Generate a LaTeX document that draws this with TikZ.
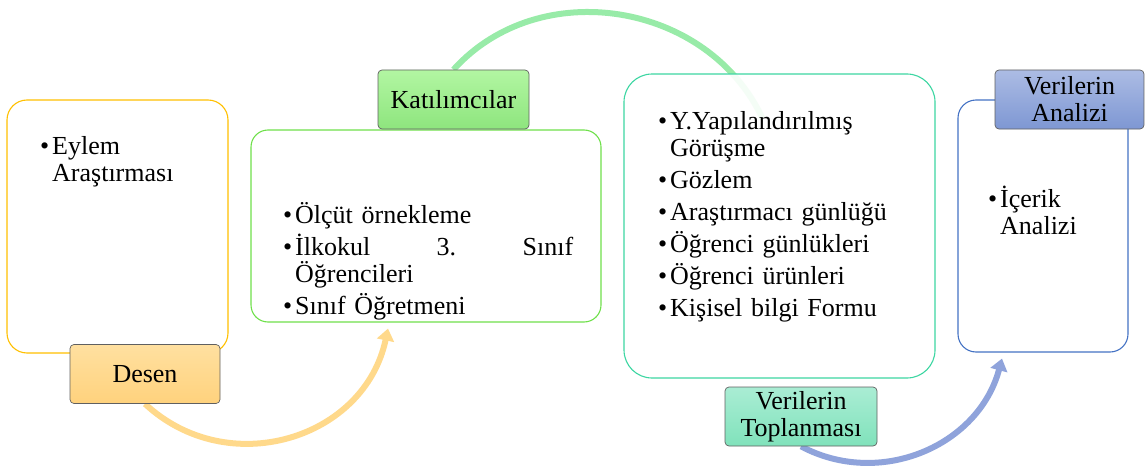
\documentclass[tikz,border=0pt]{standalone}
\usepackage{fontspec}
\setmainfont{Liberation Serif}
\usetikzlibrary{arrows.meta}

\pgfdeclarelayer{bg}
\pgfsetlayers{bg,main}

\definecolor{sari}{HTML}{FFC000}
\definecolor{yesil}{HTML}{6FE04B}
\definecolor{turkuaz}{HTML}{3CD6A2}
\definecolor{mavi}{HTML}{4472C4}
\definecolor{turuncuok}{HTML}{FFD98B}
\definecolor{yesilok}{HTML}{98EBA8}
\definecolor{maviok}{HTML}{8FA3DB}

% madde imli satir
\newcommand{\itm}[1]{\parskip=5pt\hangindent=12pt\hangafter=1\makebox[12pt][l]{\textbullet}#1\par}

\begin{document}
\begin{tikzpicture}[x=1pt, y=1pt,
    kutu/.style={draw, fill=white, rounded corners=20pt, line width=1.1pt, inner sep=0pt},
    sekme/.style={draw=gray!75!black, rounded corners=4pt, line width=0.7pt, align=center,
        inner sep=0pt, minimum height=59pt, font=\fontsize{26}{27}\selectfont},
    liste/.style={anchor=base west, inner sep=0pt, align=left, font=\fontsize{26}{27}\selectfont},
    ok/.style={line width=6pt, -{Triangle[width=17pt,length=12pt]}}]
    \useasboundingbox (0,0) rectangle (1145,467);

    % Kutular
    \node[kutu, draw=sari, minimum width=221pt, minimum height=253pt] (desenkutu) at (117.5,240.5) {};
    \node[kutu, draw=yesil, rounded corners=17pt, minimum width=350pt, minimum height=192pt] (katkutu) at (426,241) {};
    \node[kutu, draw=turkuaz, fill opacity=0.9, rounded corners=28pt, minimum width=311pt, minimum height=304pt] (verikutu) at (779.5,241) {};
    \node[kutu, draw=mavi, rounded corners=18pt, minimum width=170pt, minimum height=252pt] (analizkutu) at (1043,241) {};

    % Kutu metinleri
    \node[liste, text width=175pt] (desenmetin) at (40,313) {\itm{Eylem\newline Araştırması}};
    \node[liste, text width=300pt] (katmetin) at (283,244) {%
        \itm{Ölçüt örnekleme}
        \itm{\hbox to 278pt{İlkokul\hfil 3.\hfil Sınıf}\newline Öğrencileri}
        \itm{Sınıf Öğretmeni}};
    \node[liste, text width=265pt] (verimetin) at (658,338) {%
        \itm{Y.Yapılandırılmış\newline Görüşme}
        \itm{Gözlem}
        \itm{Araştırmacı günlüğü}
        \itm{Öğrenci günlükleri}
        \itm{Öğrenci ürünleri}
        \itm{Kişisel bilgi Formu}};
    \node[liste, text width=140pt] (analizmetin) at (988,260) {\itm{İçerik\newline Analizi}};

    % Sekmeler
    \node[sekme, minimum width=150pt, top color={rgb,255:red,255;green,224;blue,160}, bottom color={rgb,255:red,255;green,210;blue,125}] (desen) at (145,93) {Desen};
    \node[sekme, minimum width=151pt, top color={rgb,255:red,178;green,246;blue,162}, bottom color={rgb,255:red,142;green,229;blue,126}] (katil) at (453.5,367.5) {Katılımcılar};
    \node[sekme, minimum width=152pt, top color={rgb,255:red,170;green,237;blue,212}, bottom color={rgb,255:red,128;green,226;blue,187}] (topl) at (801,50.5) {Verilerin\\Toplanması};
    \node[sekme, minimum width=149pt, top color={rgb,255:red,172;green,188;blue,228}, bottom color={rgb,255:red,126;green,151;blue,211}] (analiz) at (1069.5,367.5) {Verilerin\\Analizi};

    % Oklar (arkada)
    \begin{pgfonlayer}{bg}
        \draw[ok, turuncuok] (desen.south) to[out=-43, in=258, looseness=1.14] ([xshift=-38pt,yshift=-6pt]katkutu.south);
        \draw[line width=6pt, yesilok] (katil.north) to[out=48, in=115, looseness=1.05] ([xshift=-17pt,yshift=-45pt]verikutu.north);
        \draw[ok, maviok] (topl.south) to[out=-28, in=255, looseness=1.05] ([xshift=-41pt,yshift=-6pt]analizkutu.south);
    \end{pgfonlayer}
\end{tikzpicture}
\end{document}
